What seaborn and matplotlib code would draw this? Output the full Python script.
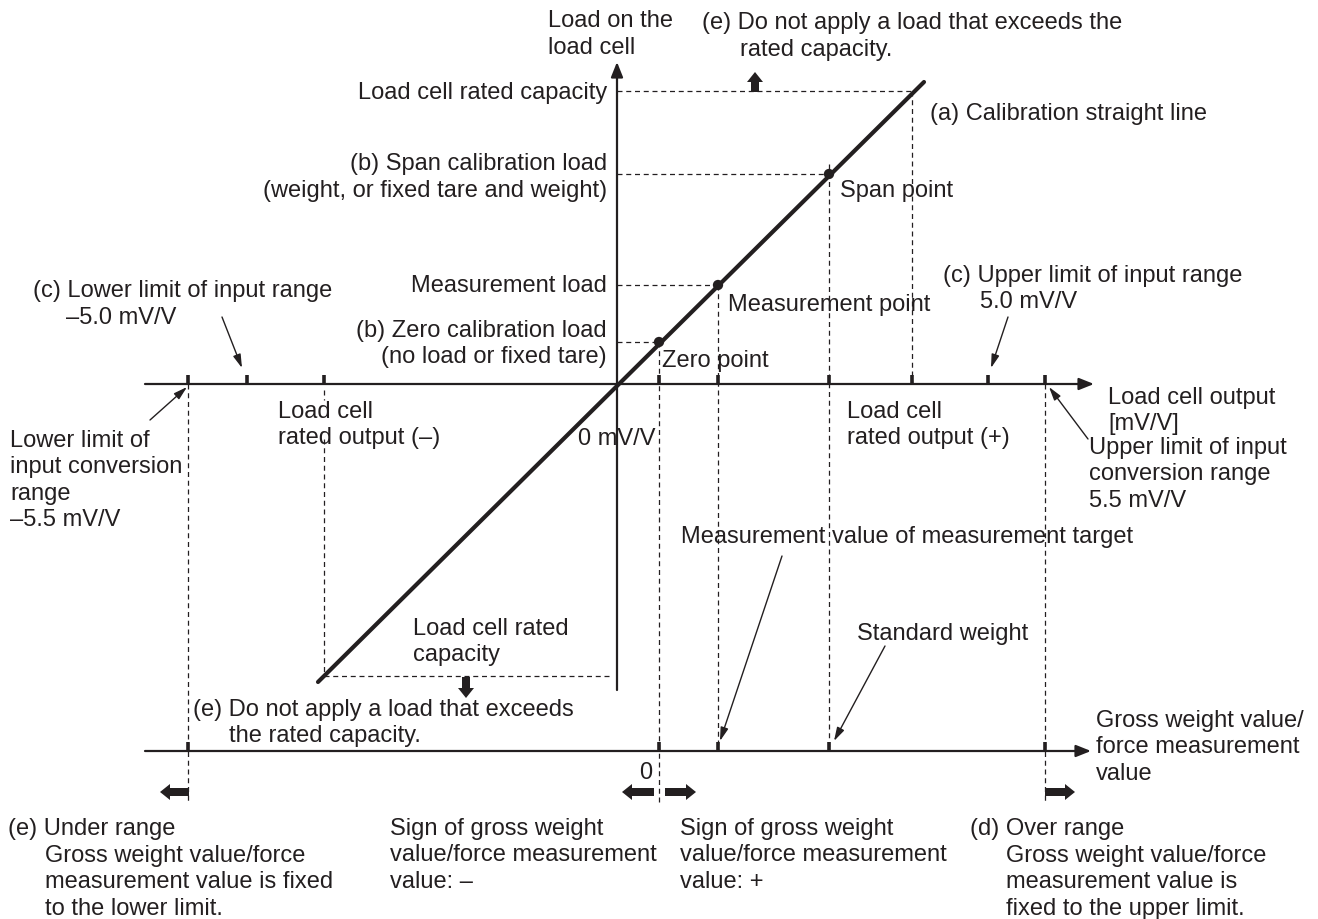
import matplotlib
matplotlib.use("Agg")
import matplotlib.pyplot as plt
import seaborn as sns
import pandas as pd
from matplotlib import font_manager

sns.set_theme(style="white")
names = {f.name for f in font_manager.fontManager.ttflist}
main_font = "Liberation Sans Narrow" if "Liberation Sans Narrow" in names else "Liberation Sans"
plt.rcParams["font.family"] = [main_font, "DejaVu Sans"]

INK = "#231f20"

# diagram units (same scale both ways, y grows downward)
origin = (617, 385)
calib_x = [318, 924]
calib_y = [683, 83]
point_names = ["Zero point", "Measurement point", "Span point"]
point_x = [659, 718, 829]
point_y = [343, 286, 175]
rated_load_y = 92
rated_load_x = 912
neg_rated_x = 324
neg_rated_y = 677
output_ticks = [188, 247, 324, 659, 718, 829, 912, 988, 1045]
gross_axis_y = 752
gross_ticks = [188, 659, 718, 829, 1045]

fig = plt.figure(figsize=(13.18, 9.2), dpi=100)
ax = fig.add_axes([0, 0, 1, 1])

dash = dict(color=INK, lw=0.9, ls=(0, (4, 3)))

# dashed guide lines
ax.plot([origin[0], rated_load_x], [rated_load_y] * 2, **dash)
ax.plot([rated_load_x] * 2, [rated_load_y, origin[1]], **dash)
for x, y in zip(point_x, point_y):
    ax.plot([origin[0], x], [y, y], **dash)
ax.plot([point_x[0]] * 2, [point_y[0], 805], **dash)
ax.plot([point_x[1]] * 2, [point_y[1], gross_axis_y], **dash)
ax.plot([point_x[2]] * 2, [point_y[2] - 10, gross_axis_y], **dash)
ax.plot([output_ticks[0]] * 2, [origin[1], 805], **dash)
ax.plot([output_ticks[-1]] * 2, [origin[1], 805], **dash)
ax.plot([neg_rated_x] * 2, [440, neg_rated_y], **dash)
ax.plot([neg_rated_x] * 2, [391, 401], **dash)
ax.plot([neg_rated_x, 612], [neg_rated_y] * 2, **dash)

# axes
axis_arrow = dict(arrowstyle="-|>,head_length=0.45,head_width=0.18", lw=1.6, color=INK,
                  mutation_scale=20, shrinkA=0, shrinkB=0)
ax.annotate("", xy=(1094, origin[1]), xytext=(145, origin[1]), arrowprops=axis_arrow)
ax.annotate("", xy=(origin[0], 63), xytext=(origin[0], 691), arrowprops=axis_arrow)
ax.annotate("", xy=(1091, gross_axis_y), xytext=(145, gross_axis_y), arrowprops=axis_arrow)

for x in output_ticks:
    ax.plot([x, x], [origin[1] - 9, origin[1]], color=INK, lw=2.6, solid_capstyle="butt")
for x in gross_ticks:
    ax.plot([x, x], [gross_axis_y - 9, gross_axis_y], color=INK, lw=2.6, solid_capstyle="butt")

# calibration line and points
calib = pd.DataFrame({"x": calib_x, "y": calib_y})
sns.lineplot(data=calib, x="x", y="y", color=INK, lw=3, ax=ax, sort=False)
pts = pd.DataFrame({"name": point_names, "x": point_x, "y": point_y})
sns.scatterplot(data=pts, x="x", y="y", color=INK, s=55, edgecolor="none", ax=ax, zorder=5)
ax.set_xlim(0, 1318)
ax.set_ylim(920, 0)
ax.axis("off")

# block arrows
blk = dict(width=8, head_width=16, head_length=10, length_includes_head=True,
           color=INK, lw=0)
ax.arrow(189, 793, -29, 0, **blk)
ax.arrow(654, 793, -32, 0, **blk)
ax.arrow(665, 793, 31, 0, **blk)
ax.arrow(1045, 793, 30, 0, **blk)
ax.arrow(755, 93, 0, -20, **blk)
ax.arrow(466, 678, 0, 21, **blk)

# thin pointer arrows
thin = dict(arrowstyle="-|>,head_length=0.45,head_width=0.13", lw=1, color=INK,
            mutation_scale=18, shrinkA=0, shrinkB=0)
ax.annotate("", xy=(242, 369), xytext=(222, 318), arrowprops=thin)
ax.annotate("", xy=(187, 388), xytext=(150, 421), arrowprops=thin)
ax.annotate("", xy=(991, 369), xytext=(1008, 318), arrowprops=thin)
ax.annotate("", xy=(1049, 388), xytext=(1088, 440), arrowprops=thin)
ax.annotate("", xy=(720, 742), xytext=(782, 557), arrowprops=thin)
ax.annotate("", xy=(834, 742), xytext=(885, 647), arrowprops=thin)

FS = 17
LH = 26.5


def label(x, y, lines, ha="left"):
    for i, t in enumerate(lines):
        ax.text(x, y + i * LH, t, ha=ha, va="center", fontsize=FS, color=INK)


label(548, 21, ["Load on the", "load cell"])
label(702, 23, ["(e) Do not apply a load that exceeds the"])
label(740, 50, ["rated capacity."])
label(607, 93, ["Load cell rated capacity"], ha="right")
label(930, 114, ["(a) Calibration straight line"])
label(607, 164, ["(b) Span calibration load", "(weight, or fixed tare and weight)"], ha="right")
label(840, 191, ["Span point"])
label(607, 286, ["Measurement load"], ha="right")
label(728, 305, ["Measurement point"])
label(607, 331, ["(b) Zero calibration load", "(no load or fixed tare)"], ha="right")
label(662, 361, ["Zero point"])
label(33, 291, ["(c) Lower limit of input range"])
label(66, 318, ["\u20135.0 mV/V"])
label(943, 276, ["(c) Upper limit of input range"])
label(980, 302, ["5.0 mV/V"])
label(1108, 398, ["Load cell output", "[mV/V]"])
label(278, 412, ["Load cell", "rated output (\u2013)"])
label(655, 439, ["0 mV/V"], ha="right")
label(847, 412, ["Load cell", "rated output (+)"])
label(10, 441, ["Lower limit of", "input conversion", "range", "\u20135.5 mV/V"])
label(1089, 448, ["Upper limit of input", "conversion range", "5.5 mV/V"])
label(681, 537, ["Measurement value of measurement target"])
label(857, 634, ["Standard weight"])
label(413, 629, ["Load cell rated", "capacity"])
label(193, 710, ["(e) Do not apply a load that exceeds"])
label(229, 736, ["the rated capacity."])
label(1096, 721, ["Gross weight value/", "force measurement", "value"])
label(652, 773, ["0"], ha="right")
label(8, 829, ["(e) Under range"])
label(45, 856, ["Gross weight value/force", "measurement value is fixed", "to the lower limit."])
label(390, 829, ["Sign of gross weight", "value/force measurement", "value: \u2013"])
label(680, 829, ["Sign of gross weight", "value/force measurement", "value: +"])
label(970, 829, ["(d) Over range"])
label(1006, 856, ["Gross weight value/force", "measurement value is", "fixed to the upper limit."])

fig.savefig("out.png", dpi=100, facecolor="white")
